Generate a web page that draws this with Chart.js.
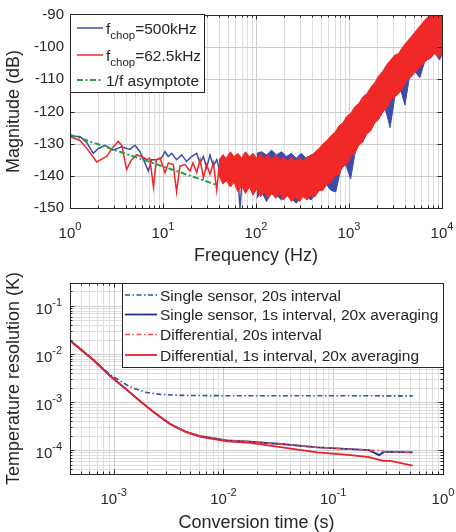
<!DOCTYPE html>
<html>
<head>
<meta charset="utf-8">
<script src="https://cdn.jsdelivr.net/npm/chart.js@4.4.1/dist/chart.umd.min.js"></script>
<style>
  html, body { margin: 0; padding: 0; background: #fff; }
  body { width: 456px; height: 532px; position: relative; overflow: hidden; }
  canvas { position: absolute; left: 0; }
  #spectrum { top: 0; }
  #resolution { top: 268px; }
</style>
</head>
<body>
<canvas id="spectrum" width="456" height="268"></canvas>
<canvas id="resolution" width="456" height="264"></canvas>
<script>
// ---- top panel: noise spectrum ----
const freqTicks = [1, 10, 100, 1000, 10000]
const freqTickLabels = ['10^0', '10^1', '10^2', '10^3', '10^4']

// single traces at low frequency
const blueLowF = [1, 1.28, 1.5, 1.78, 2.02, 2.38, 2.9, 3.6, 4.4, 5.0, 5.65, 6.4, 6.95, 7.55, 8.5, 9.6, 10.5, 11.4, 12.4, 14, 15.9, 17.9, 20.3,
    23.0, 25.0, 27.2, 29.5, 32.0, 34.8, 37.8, 41.0, 44.6, 48.4, 52.5, 57.0, 62.0, 67.3, 73.1, 79.4, 86.1, 93.6, 101.6]
const blueLowDb = [-127.8, -127.8, -129.5, -133, -131.5, -130.5, -132, -131, -131.8, -130.5, -132.5, -136, -138.5, -135, -135, -134.5, -132.5, -134, -133, -135, -133.5, -135.5, -134,
    -133, -136, -134, -137.5, -133.5, -137, -135, -138.5, -134, -137.5, -134.5, -139, -135, -150, -136, -134, -139, -135, -137.5]

const redLowF = [1, 1.28, 1.57, 1.93, 2.48, 2.92, 3.3, 3.6, 4.06, 4.6, 5.2, 5.9, 6.7, 7.2, 7.9, 8.5, 9.3, 10.5, 11.4, 12.9, 14, 15.2, 17.2, 19.5,
    21.0, 23.0, 25.0, 27.2, 29.5, 32.0, 34.8, 37.8, 40]
const redLowDb = [-127.8, -129, -132, -135.7, -134, -131, -129.3, -130.5, -138, -135, -133.5, -134, -135, -134.5, -143.5, -135, -134.5, -139, -136, -136.5, -145, -137, -136.5, -138.5,
    -136, -139, -135, -140.5, -136.5, -139.5, -136, -144.5, -137.5]

// above ~40 Hz the traces are so dense they read as bands (upper / lower edge)
const blueBandF = [102, 115, 130, 147, 166, 188, 212, 240, 271, 306, 346, 391, 442, 500, 565, 638, 721, 815, 921, 1041, 1176, 1329, 1502, 1697, 1918,
    2167, 2449, 2768, 3128, 3535, 3995, 4515, 5102, 5766, 6516, 7364, 8322, 9405, 10000]
const blueBandHi = [-133, -132.5, -133.5, -132, -133.5, -132.5, -134, -133, -134.5, -133, -134.5, -133.5, -133, -131.5, -130, -129, -128, -127, -125, -123, -121.5, -120, -118.5, -116.5, -114.5,
    -112.5, -110.5, -108.5, -106.5, -104.5, -102.5, -100.5, -98.5, -96.5, -94.5, -93, -91, -89.5, -88.5]
const blueBandLo = [-147, -145, -148, -145, -146, -147.5, -146, -147, -148.5, -146.5, -146.5, -147.5, -145.5, -144, -142.5, -144.5, -145, -138, -136.5, -141, -132, -129.5, -127.5, -125.5, -123,
    -121.5, -119, -125, -115, -112.5, -118, -108.5, -107.5, -109.5, -104.5, -103.3, -101.8, -104, -102.3]

const redBandF = [40, 44, 48, 53, 58, 64, 70, 77, 85, 93, 102, 112, 123, 135, 148, 163, 180, 198, 218, 240, 265, 292, 322, 355, 392, 432, 477, 526, 580, 640, 706, 779, 860, 949,
    1047, 1155, 1274, 1406, 1552, 1712, 1890, 2085, 2301, 2539, 2802, 3092, 3412, 3765, 4155, 4585, 5060, 5584, 6162, 6800, 7504, 8281, 9139, 10000]
const redBandHi = [-135, -133.5, -134.5, -132.5, -134, -133, -134.5, -132.5, -134, -133, -134.5, -133, -134.5, -133.5, -135, -133.5, -135, -134, -135.5, -134, -135.5, -134.5, -135.5, -134,
    -134, -132.5, -131.5, -130, -129, -127.5, -126.5, -124.5, -123.5, -121.5, -120.5, -118.5, -117.5, -115.5, -114.5, -112.5, -111, -109, -107.5, -105.5, -104, -102.5, -102, -100,
    -98.5, -97, -95.5, -94, -92.5, -91, -90, -89, -88, -87]
const redBandLo = [-140, -142.5, -141.5, -143.5, -142, -145, -143, -145.5, -143.5, -146, -144, -146.5, -145, -147, -145.5, -147, -145.5, -147.5, -146, -148, -146.5, -148, -146.5, -147.5,
    -146, -146.5, -144.5, -144.5, -142.5, -142, -140, -139.5, -137, -136.5, -134, -133, -130.5, -129.5, -127, -126, -123.5, -122.5, -120, -119, -116.5, -115.5, -114.5, -113,
    -110.5, -109.5, -108, -106.5, -105.5, -104, -103.5, -102, -103, -102.5]

const asymF = [1, 37.8]
const asymDb = [-127.2, -142.8]

// ---- bottom panel: temperature resolution ----
const timeTicks = [1e-3, 1e-2, 1e-1, 1]
const timeTickLabels = ['10^-3', '10^-2', '10^-1', '10^0']
const resTicks = [1e-4, 1e-3, 1e-2, 1e-1]
const resTickLabels = ['10^-4', '10^-3', '10^-2', '10^-1']

const single20sT = [4.0e-4, 6.5e-4, 9.3e-4, 1.15e-3, 1.32e-3, 1.51e-3, 2.0e-3, 2.65e-3, 4.0e-3, 1.0e-2, 0.03, 0.1, 0.3, 0.53]
const single20s = [0.0191, 7.7e-3, 3.7e-3, 2.75e-3, 2.27e-3, 1.94e-3, 1.58e-3, 1.45e-3, 1.38e-3, 1.36e-3, 1.36e-3, 1.36e-3, 1.35e-3, 1.35e-3]

const avgT = [4.0e-4, 6.5e-4, 9.3e-4, 1.32e-3, 1.74e-3, 2.31e-3, 3.27e-3, 4.5e-3, 6.2e-3, 1.08e-2, 1.76e-2, 3.55e-2, 7.16e-2, 0.144, 0.212, 0.262, 0.29, 0.334, 0.528]
const singleAvg = [0.0191, 7.6e-3, 3.5e-3, 1.8e-3, 1.05e-3, 6.2e-4, 3.5e-4, 2.45e-4, 1.95e-4, 1.6e-4, 1.5e-4, 1.33e-4, 1.15e-4, 1.05e-4, 1.0e-4, 7.9e-5, 9.2e-5, 9.2e-5, 9.0e-5]
const diff20s = [0.0191, 7.6e-3, 3.5e-3, 1.8e-3, 1.05e-3, 6.2e-4, 3.5e-4, 2.45e-4, 1.95e-4, 1.6e-4, 1.5e-4, 1.33e-4, 1.15e-4, 1.05e-4, 1.0e-4, 9.9e-5, 9.4e-5, 9.2e-5, 9.0e-5]
const diffAvg = [0.0191, 7.6e-3, 3.5e-3, 1.8e-3, 1.05e-3, 6.2e-4, 3.45e-4, 2.4e-4, 1.9e-4, 1.52e-4, 1.42e-4, 1.13e-4, 9.0e-5, 7.9e-5, 7.2e-5, 6.3e-5, 6.0e-5, 6.0e-5, 4.8e-5]

const FONT = "'Liberation Sans', Arial, sans-serif"
const INK = '#262626'

const pts = (xs, ys) => xs.map((x, i) => ({x: x, y: ys[i]}))

function minorValues(min, max) {
    let out = []
    for (let k = Math.floor(Math.log10(min)); k <= Math.ceil(Math.log10(max)); k++) {
        for (let m = 2; m <= 9; m++) {
            let v = m * Math.pow(10, k)
            if (v > min && v < max) out.push(v)
        }
    }
    return out
}

// "10^-3" -> base with superscript
function drawPower(ctx, label, x, y, align) {
    let parts = label.split('^')
    ctx.font = '15px ' + FONT
    let wb = ctx.measureText(parts[0]).width
    ctx.font = '11px ' + FONT
    let we = parts[1] ? ctx.measureText(parts[1]).width : 0
    let x0 = align === 'center' ? x - (wb + we) / 2 : x - (wb + we)
    ctx.font = '15px ' + FONT
    ctx.fillText(parts[0], x0, y)
    if (parts[1]) {
        ctx.font = '11px ' + FONT
        ctx.fillText(parts[1], x0 + wb, y - 8)
    }
}

// "f_{chop}=500kHz" -> text with subscript
function drawLabel(ctx, text, x, y, size) {
    let m = text.match(/^(.*?)_\{(.*?)\}(.*)$/)
    let pieces = m ? [[m[1], 0], [m[2], 1], [m[3], 0]] : [[text, 0]]
    pieces.forEach(p => {
        ctx.font = (p[1] ? size * 0.74 : size) + 'px ' + FONT
        ctx.fillText(p[0], x, y + (p[1] ? 5 : 0))
        x += ctx.measureText(p[0]).width
    })
}

function drawLegend(chart, lg) {
    const ctx = chart.ctx
    ctx.fillStyle = '#fff'
    ctx.fillRect(lg.x, lg.y, lg.w, lg.h)
    ctx.strokeStyle = INK
    ctx.lineWidth = 1
    ctx.setLineDash([])
    ctx.strokeRect(lg.x + 0.5, lg.y + 0.5, lg.w, lg.h)
    lg.items.forEach((idx, i) => {
        let ds = chart.data.datasets[idx]
        let cy = lg.rows[i]
        ctx.strokeStyle = ds.borderColor
        ctx.lineWidth = ds.borderWidth
        ctx.setLineDash(ds.borderDash || [])
        ctx.beginPath()
        ctx.moveTo(lg.line[0], cy)
        ctx.lineTo(lg.line[1], cy)
        ctx.stroke()
        ctx.setLineDash([])
        ctx.fillStyle = INK
        ctx.textAlign = 'left'
        ctx.textBaseline = 'alphabetic'
        drawLabel(ctx, ds.label, lg.textX, cy + 5.5, lg.size)
    })
}

// MATLAB style box: grid under the data, frame + inward ticks + labels on top
const framePlugin = {
    id: 'frame',
    beforeDatasetsDraw(chart, args, o) {
        const {ctx, chartArea: a, scales: {x, y}} = chart
        ctx.save()
        ctx.lineWidth = 1
        let xMinor = o.xLog ? minorValues(x.min, x.max) : []
        let yMinor = o.yLog ? minorValues(y.min, y.max) : []
        let yMajor = o.yMajor || y.ticks.map(t => t.value)
        ctx.strokeStyle = '#dedede'
        xMinor.forEach(v => {
            let px = Math.round(x.getPixelForValue(v)) + 0.5
            ctx.beginPath(); ctx.moveTo(px, a.top); ctx.lineTo(px, a.bottom); ctx.stroke()
        })
        yMinor.forEach(v => {
            let py = Math.round(y.getPixelForValue(v)) + 0.5
            ctx.beginPath(); ctx.moveTo(a.left, py); ctx.lineTo(a.right, py); ctx.stroke()
        })
        ctx.strokeStyle = '#cdcdcd'
        o.xMajor.forEach(v => {
            let px = Math.round(x.getPixelForValue(v)) + 0.5
            ctx.beginPath(); ctx.moveTo(px, a.top); ctx.lineTo(px, a.bottom); ctx.stroke()
        })
        yMajor.forEach(v => {
            let py = Math.round(y.getPixelForValue(v)) + 0.5
            ctx.beginPath(); ctx.moveTo(a.left, py); ctx.lineTo(a.right, py); ctx.stroke()
        })
        ctx.restore()
    },
    afterDatasetsDraw(chart, args, o) {
        const {ctx, chartArea: a, scales: {x, y}} = chart
        ctx.save()
        ctx.strokeStyle = INK
        ctx.lineWidth = 1
        let yMajor = o.yMajor || y.ticks.map(t => t.value)
        let tick = (v, len, horiz) => {
            if (horiz) {
                let px = Math.round(x.getPixelForValue(v)) + 0.5
                ctx.beginPath()
                ctx.moveTo(px, a.bottom); ctx.lineTo(px, a.bottom - len)
                ctx.moveTo(px, a.top); ctx.lineTo(px, a.top + len)
                ctx.stroke()
            } else {
                let py = Math.round(y.getPixelForValue(v)) + 0.5
                ctx.beginPath()
                ctx.moveTo(a.left, py); ctx.lineTo(a.left + len, py)
                ctx.moveTo(a.right, py); ctx.lineTo(a.right - len, py)
                ctx.stroke()
            }
        }
        if (o.xLog) minorValues(x.min, x.max).forEach(v => tick(v, 2.5, true))
        if (o.yLog) minorValues(y.min, y.max).forEach(v => tick(v, 2.5, false))
        o.xMajor.forEach(v => tick(v, 4.5, true))
        yMajor.forEach(v => tick(v, 4.5, false))
        ctx.strokeRect(a.left + 0.5, a.top + 0.5, a.right - a.left, a.bottom - a.top)

        ctx.fillStyle = INK
        ctx.textAlign = 'left'
        ctx.textBaseline = 'alphabetic'
        o.xMajor.forEach((v, i) => drawPower(ctx, o.xLabels[i], x.getPixelForValue(v), a.bottom + 30, 'center'))
        if (o.yLabels) o.yMajor.forEach((v, i) => drawPower(ctx, o.yLabels[i], a.left - 8, y.getPixelForValue(v) + 8, 'right'))

        drawLegend(chart, o.legend)
        ctx.restore()
    }
}

const titleFont = {family: FONT, size: 18, lineHeight: 1}

// ---------- spectrum ----------
new Chart(document.getElementById('spectrum'), {
    type: 'line',
    data: {
        datasets: [
            {label: '1/f asymptote', data: pts(asymF, asymDb), borderColor: '#25a043', borderWidth: 2, borderDash: [6, 2.5, 2, 2.5], order: 0},
            {label: 'f_{chop}=62.5kHz', data: pts(redLowF, redLowDb), borderColor: '#f02828', borderWidth: 1.5, order: 1},
            {label: 'red hi', data: pts(redBandF, redBandHi), borderColor: '#f02828', borderWidth: 1, order: 1},
            {label: 'red lo', data: pts(redBandF, redBandLo), borderColor: '#f02828', borderWidth: 1, backgroundColor: '#f02828', fill: '-1', order: 1},
            {label: 'f_{chop}=500kHz', data: pts(blueLowF, blueLowDb), borderColor: '#3c4cab', borderWidth: 1.5, order: 2},
            {label: 'blue hi', data: pts(blueBandF, blueBandHi), borderColor: '#3c4cab', borderWidth: 1, order: 2},
            {label: 'blue lo', data: pts(blueBandF, blueBandLo), borderColor: '#3c4cab', borderWidth: 1, backgroundColor: '#3c4cab', fill: '-1', order: 2}
        ]
    },
    options: {
        responsive: false,
        animation: false,
        events: [],
        layout: {padding: {top: 14, right: 14, left: 0, bottom: 0}},
        elements: {point: {radius: 0}, line: {tension: 0}},
        plugins: {
            legend: {display: false},
            tooltip: {enabled: false},
            frame: {
                xLog: true, yLog: false,
                xMajor: freqTicks, xLabels: freqTickLabels,
                legend: {x: 70, y: 14, w: 134, h: 78, rows: [28, 55, 80], line: [77, 103], textX: 106, size: 15.5, items: [4, 1, 0]}
            }
        },
        scales: {
            x: {
                type: 'logarithmic', min: 1, max: 10000,
                grid: {display: false, drawTicks: false}, border: {display: false},
                ticks: {display: false},
                title: {display: true, text: 'Frequency (Hz)', color: INK, font: titleFont, padding: {top: 0, bottom: 3}},
                afterFit: s => { s.height = 60 }
            },
            y: {
                min: -150, max: -90,
                grid: {display: false, drawTicks: false}, border: {display: false},
                ticks: {stepSize: 10, color: INK, font: {family: FONT, size: 15}, padding: 6},
                title: {display: true, text: 'Magnitude (dB)', color: INK, font: titleFont, padding: {top: 5.5, bottom: 0}},
                afterFit: s => { s.width = 70 }
            }
        }
    },
    plugins: [framePlugin]
})

// ---------- temperature resolution ----------
new Chart(document.getElementById('resolution'), {
    type: 'line',
    data: {
        datasets: [
            {label: 'Differential, 1s interval, 20x averaging', data: pts(avgT, diffAvg), borderColor: '#e6222f', borderWidth: 1.8, order: 0},
            {label: 'Differential, 20s interval', data: pts(avgT, diff20s), borderColor: '#ee4e58', borderWidth: 1.6, borderDash: [5, 2.5, 1.5, 2.5], order: 1},
            {label: 'Single sensor, 1s interval, 20x averaging', data: pts(avgT, singleAvg), borderColor: '#20308c', borderWidth: 1.8, order: 2},
            {label: 'Single sensor, 20s interval', data: pts(single20sT, single20s), borderColor: '#3152b5', borderWidth: 1.6, borderDash: [5, 2.5, 1.5, 2.5], order: 3}
        ]
    },
    options: {
        responsive: false,
        animation: false,
        events: [],
        layout: {padding: {top: 15, right: 13, left: 0, bottom: 0}},
        elements: {point: {radius: 0}, line: {tension: 0}},
        plugins: {
            legend: {display: false},
            tooltip: {enabled: false},
            frame: {
                xLog: true, yLog: true,
                xMajor: timeTicks, xLabels: timeTickLabels,
                yMajor: resTicks, yLabels: resTickLabels,
                legend: {x: 122, y: 15, w: 321, h: 84, rows: [27, 46.5, 66.5, 87], line: [125, 157], textX: 160, size: 15.5, items: [3, 2, 1, 0]}
            }
        },
        scales: {
            x: {
                type: 'logarithmic', min: 4e-4, max: 1,
                grid: {display: false, drawTicks: false}, border: {display: false},
                ticks: {display: false},
                title: {display: true, text: 'Conversion time (s)', color: INK, font: titleFont, padding: {top: 0, bottom: 0}},
                afterFit: s => { s.height = 58 }
            },
            y: {
                type: 'logarithmic', min: 3.2e-5, max: 0.3,
                grid: {display: false, drawTicks: false}, border: {display: false},
                ticks: {display: false},
                title: {display: true, text: 'Temperature resolution (K)', color: INK, font: titleFont, padding: {top: 5.5, bottom: 0}},
                afterFit: s => { s.width = 70 }
            }
        }
    },
    plugins: [framePlugin]
})
</script>
</body>
</html>
